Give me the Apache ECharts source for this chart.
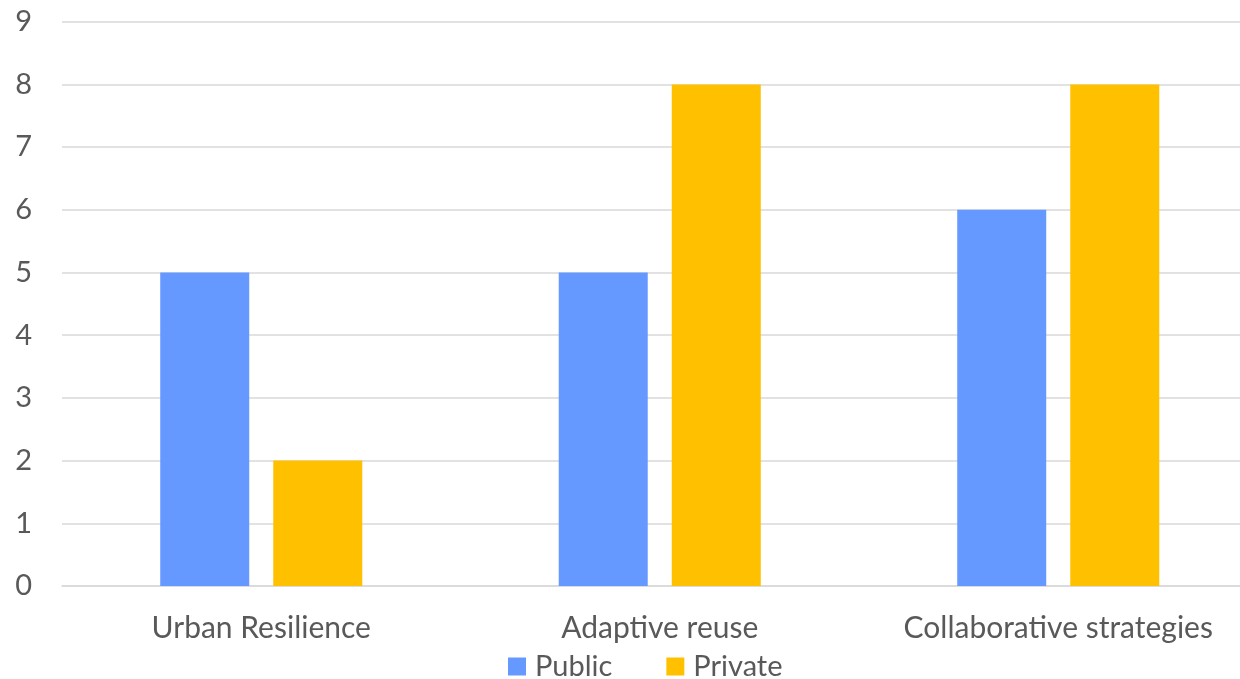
<!DOCTYPE html>
<html>
<head>
<meta charset="utf-8">
<script src="https://cdn.jsdelivr.net/npm/echarts@6/dist/echarts.min.js"></script>
<style>
  html, body { margin: 0; padding: 0; background: #ffffff; }
  #chart { width: 1240px; height: 679px; }
</style>
</head>
<body>
<div id="chart"></div>
<script>
const categories = ['Urban Resilience', 'Adaptive reuse', 'Collaborative strategies'];
const publicValues = [5, 5, 6];
const privateValues = [2, 8, 8];
const yTicks = { min: 0, max: 9, interval: 1 };

const FONT = 'Lato';
const TEXT_COLOR = '#595959';

const chart = echarts.init(document.getElementById('chart'), null, { renderer: 'canvas' });
chart.setOption({
  animation: false,
  backgroundColor: '#ffffff',
  textStyle: { fontFamily: FONT },
  grid: {
    left: 62,
    right: -17.5,
    top: 21.7,
    bottom: 93,
    containLabel: false,
    outerBoundsMode: 'none'
  },
  legend: {
    data: ['Public', 'Private'],
    left: 503,
    top: 647,
    icon: 'rect',
    itemWidth: 18,
    itemHeight: 18,
    itemGap: 54,
    textStyle: { fontFamily: FONT, fontSize: 29, color: TEXT_COLOR, padding: [0, 0, 0, 4] }
  },
  xAxis: {
    type: 'category',
    data: categories,
    axisLine: { show: true, lineStyle: { color: '#d9d9d9', width: 1.5 } },
    axisTick: { show: false },
    axisLabel: { interval: 0, fontFamily: FONT, fontSize: 30, color: TEXT_COLOR, margin: 27 }
  },
  yAxis: {
    type: 'value',
    min: yTicks.min,
    max: yTicks.max,
    interval: yTicks.interval,
    axisLine: { show: false },
    axisTick: { show: false },
    splitLine: { lineStyle: { color: '#d9d9d9', width: 1.5 } },
    axisLabel: { fontFamily: FONT, fontSize: 29, color: TEXT_COLOR, margin: 30 }
  },
  series: [
    {
      name: 'Public',
      type: 'bar',
      data: publicValues,
      itemStyle: { color: '#6699ff' },
      barGap: '27%',
      barCategoryGap: '49.3%'
    },
    {
      name: 'Private',
      type: 'bar',
      data: privateValues,
      itemStyle: { color: '#ffc000' },
      barGap: '27%',
      barCategoryGap: '49.3%'
    }
  ]
});
</script>
</body>
</html>
